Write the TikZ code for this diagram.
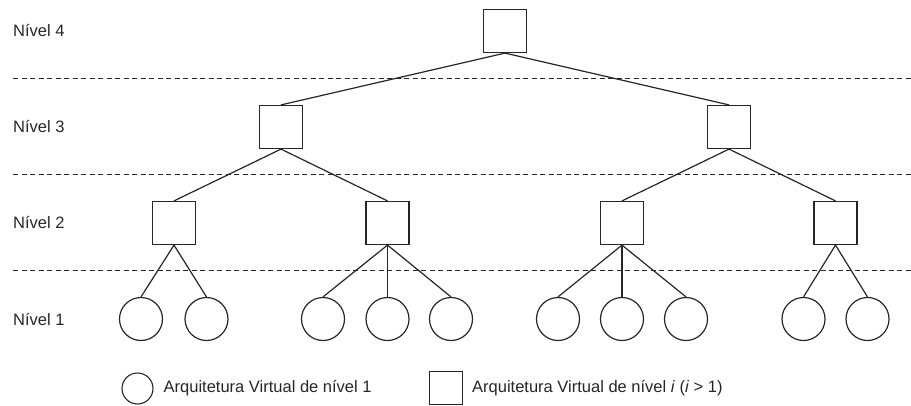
\documentclass[tikz,border=0pt]{standalone}
\usepackage{fontspec}
\setmainfont{Liberation Sans}
\begin{document}
\begin{tikzpicture}[x=1pt,y=-1pt,
  sq/.style={draw=black!85,line width=1.2pt,minimum size=43pt,inner sep=0pt,fill=white},
  cir/.style={circle,draw=black!85,line width=1.2pt,minimum size=43pt,inner sep=0pt},
  lsq/.style={draw=black!85,line width=1.1pt,minimum size=32.5pt,inner sep=0pt},
  lcir/.style={circle,draw=black!85,line width=1.1pt,minimum size=31pt,inner sep=0pt},
  edge/.style={draw=black!85,line width=1.2pt},
  sep/.style={draw=black!85,line width=1pt,dash pattern=on 5pt off 3.5pt},
  lab/.style={anchor=west,inner sep=0pt,font=\fontsize{16.5pt}{19pt}\selectfont,text=black!85}]
\useasboundingbox (0,0) rectangle (911,405);
% separators
\coordinate (s1a) at (13,78);  \coordinate (s1b) at (911,78);
\coordinate (s2a) at (13,174); \coordinate (s2b) at (911,174);
\coordinate (s3a) at (13,270); \coordinate (s3b) at (911,270);
\draw[sep] (s1a) -- (s1b);
\draw[sep] (s2a) -- (s2b);
\draw[sep] (s3a) -- (s3b);
% level labels
\node[lab] (n4) at (13,31) {Nível 4};
\node[lab] (n3) at (13,127) {Nível 3};
\node[lab] (n2) at (13,223) {Nível 2};
\node[lab] (n1) at (13,320) {Nível 1};
% level 4
\node[sq] (a) at (505,31) {};
% level 3
\node[sq] (b1) at (281,127) {};
\node[sq] (b2) at (729,127) {};
% level 2
\node[sq] (c1) at (174,223) {};
\node[sq] (c2) at (387.5,223) {};
\node[sq] (c3) at (622,223) {};
\node[sq] (c4) at (835.5,223) {};
% level 1
\node[cir] (d1) at (141,319) {};
\node[cir] (d2) at (206.5,319) {};
\node[cir] (d3) at (323,319) {};
\node[cir] (d4) at (387.5,319) {};
\node[cir] (d5) at (451,319) {};
\node[cir] (d6) at (558,319) {};
\node[cir] (d7) at (622,319) {};
\node[cir] (d8) at (686,319) {};
\node[cir] (d9) at (803.5,319) {};
\node[cir] (d10) at (867.5,319) {};
% edges
\draw[edge] (a.south) -- (b1.north);
\draw[edge] (a.south) -- (b2.north);
\draw[edge] (b1.south) -- (c1.north);
\draw[edge] (b1.south) -- (c2.north);
\draw[edge] (b2.south) -- (c3.north);
\draw[edge] (b2.south) -- (c4.north);
\draw[edge] (c1.south) -- (d1.north);
\draw[edge] (c1.south) -- (d2.north);
\draw[edge] (c2.south) -- (d3.north);
\draw[edge] (c2.south) -- (d4.north);
\draw[edge] (c2.south) -- (d5.north);
\draw[edge] (c3.south) -- (d6.north);
\draw[edge] (c3.south) -- (d7.north);
\draw[edge] (c3.south) -- (d8.north);
\draw[edge] (c4.south) -- (d9.north);
\draw[edge] (c4.south) -- (d10.north);
% legend
\node[lcir] (lc) at (137.5,388.5) {};
\node[lab] (lct) at (163.5,388.5) {Arquitetura Virtual de nível 1};
\node[lsq] (ls) at (446,388) {};
\node[lab] (lst) at (472,388) {Arquitetura Virtual de nível \textit{i} (\textit{i} > 1)};
\end{tikzpicture}
\end{document}
